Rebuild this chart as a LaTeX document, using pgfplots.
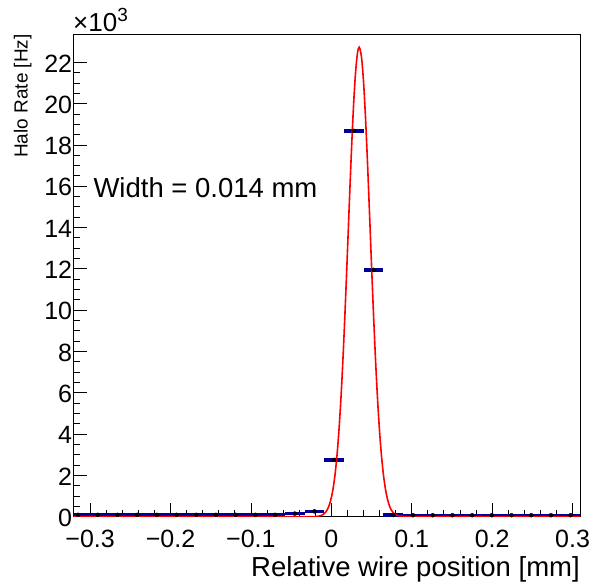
\documentclass[border=0pt]{standalone}
\usepackage{fontspec}
\setmainfont{Liberation Sans}
\usepackage{pgfplots}
\pgfplotsset{compat=1.18}
\definecolor{histblue}{RGB}{0,0,153}
\pgfplotstableread{
x y ex
-0.3150 0.09 0.01225
-0.2905 0.09 0.01225
-0.2660 0.09 0.01225
-0.2415 0.09 0.01225
-0.2170 0.09 0.01225
-0.1925 0.09 0.01225
-0.1680 0.09 0.01225
-0.1435 0.09 0.01225
-0.1190 0.09 0.01225
-0.0945 0.09 0.01225
-0.0700 0.09 0.01225
-0.0455 0.15 0.01225
-0.0210 0.26 0.01225
0.0036 2.75 0.01225
0.0281 18.68 0.01225
0.0526 11.95 0.01225
0.0771 0.08 0.01225
0.1016 0.07 0.01225
0.1261 0.07 0.01225
0.1506 0.07 0.01225
0.1751 0.07 0.01225
0.1996 0.07 0.01225
0.2241 0.07 0.01225
0.2486 0.07 0.01225
0.2731 0.07 0.01225
0.2976 0.07 0.01225
}\histdata
\begin{document}
\begin{tikzpicture}[x=1bp,y=1bp]
\begin{axis}[
  at={(73.3bp,66.3bp)}, anchor=south west,
  scale only axis, width=506.7bp, height=482.7bp,
  xmin=-0.3209, xmax=0.3093, ymin=0, ymax=23.37,
  axis line style={line width=0.8bp, black},
  xtick={-0.3,-0.2,-0.1,0,0.1,0.2,0.3},
  xticklabels={−0.3,−0.2,−0.1,0,0.1,0.2,0.3},
  ytick={0,2,4,6,8,10,12,14,16,18,20,22},
  yticklabels={0,2,4,6,8,10,12,14,16,18,20,22},
  minor x tick num=4, minor y tick num=3,
  tick align=inside, xtick pos=left, ytick pos=left,
  major tick length=14bp, minor tick length=7bp,
  tick style={black, line width=0.8bp},
  ticklabel style={font=\fontsize{25bp}{30bp}\selectfont, inner sep=0pt},
  xticklabel style={yshift=-13.5bp},
  yticklabel style={xshift=-1bp, yshift=-1bp},
  clip=true,
]
\addplot[only marks, mark=none, error bars/.cd, x dir=both, x explicit, error mark=none,
  error bar style={line width=3.5bp, draw=histblue}]
  table[x=x, y=y, x error=ex] {\histdata};
\addplot[red, line width=1.6bp, smooth] coordinates {
(-0.3209,0) (-0.2,0) (-0.1,0) (-0.05,0) (-0.035,0.0001) (-0.030,0.0003) (-0.025,0.0017)
(-0.020,0.0078) (-0.0175,0.016) (-0.015,0.0315) (-0.0125,0.060) (-0.010,0.111)
(-0.0075,0.198) (-0.005,0.341) (-0.0025,0.570) (0,0.919) (0.0025,1.436) (0.005,2.168)
(0.0075,3.166) (0.010,4.476) (0.0125,6.115) (0.015,8.083) (0.0175,10.34) (0.020,12.78)
(0.0225,15.29) (0.025,17.69) (0.0275,19.80) (0.030,21.43) (0.0325,22.44) (0.0347,22.73)
(0.0375,22.26) (0.040,21.09) (0.0425,19.33) (0.045,17.13) (0.0475,14.69) (0.050,12.18)
(0.0525,9.774) (0.055,7.583) (0.0575,5.692) (0.060,4.132) (0.0625,2.901) (0.065,1.969)
(0.0675,1.294) (0.070,0.822) (0.0725,0.505) (0.075,0.3005) (0.0775,0.1726) (0.080,0.0960)
(0.0825,0.0517) (0.085,0.0268) (0.090,0.0066) (0.095,0.0014) (0.100,0.0003) (0.11,0)
(0.2,0) (0.3093,0)
};
\end{axis}
\node[anchor=base west, inner sep=0, font=\fontsize{27.5bp}{30bp}\selectfont] at (93.3,385.3) {Width = 0.014 mm};
\node[anchor=base east, inner sep=0, font=\fontsize{27.5bp}{30bp}\selectfont] at (580,6) {Relative wire position [mm]};
\node[rotate=90, anchor=base east, inner sep=0, font=\fontsize{19bp}{22bp}\selectfont] at (27.5,549) {Halo Rate [Hz]};
\node[anchor=base west, inner sep=0, font=\fontsize{26bp}{30bp}\selectfont] at (73,551.3) {×10\raisebox{10bp}{\fontsize{19bp}{22bp}\selectfont 3}};
\pgfresetboundingbox
\useasboundingbox (0,0) rectangle (592,583);
\end{tikzpicture}
\end{document}
